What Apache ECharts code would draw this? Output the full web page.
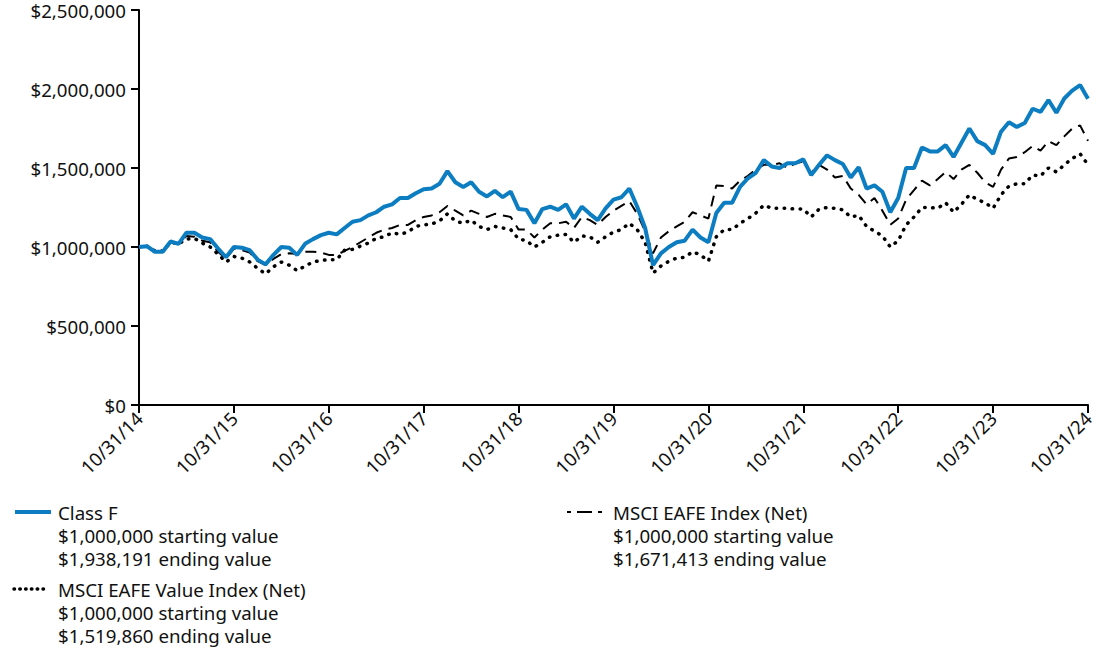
<!DOCTYPE html>
<html>
<head>
<meta charset="utf-8">
<script src="https://cdn.jsdelivr.net/npm/echarts@6/dist/echarts.min.js"></script>
<style>
html,body{margin:0;padding:0;background:#fff;}
#chart{width:1100px;height:653px;}
</style>
</head>
<body>
<div id="chart"></div>
<script>
// Values in thousands of dollars, month-end from 10/31/14 to 10/31/24
const classF = [
1000,1005,970,970,1035,1020,1090,1090,1060,1050,
990,935,1000,995,980,920,890,950,1000,995,
950,1020,1050,1075,1090,1080,1120,1160,1170,1200,
1220,1255,1270,1310,1310,1340,1365,1370,1400,1480,
1410,1380,1410,1350,1320,1355,1315,1350,1240,1235,
1150,1240,1255,1235,1270,1180,1255,1210,1170,1245,
1300,1315,1370,1255,1120,885,960,1000,1030,1040,
1110,1060,1030,1215,1280,1280,1380,1435,1470,1550,
1510,1500,1530,1530,1555,1455,1520,1580,1550,1525,
1440,1505,1370,1390,1350,1220,1310,1500,1500,1630,
1605,1605,1645,1570,1660,1750,1670,1645,1590,1730,
1790,1760,1785,1875,1855,1930,1850,1940,1990,2025,
1938.191];
const msciEafe = [
1000,1005,970,975,1030,1020,1070,1065,1040,1030,
970,925,990,980,965,910,885,925,955,960,
955,970,970,965,950,950,975,1000,1030,1060,
1090,1110,1120,1140,1140,1170,1190,1200,1220,1260,
1230,1200,1230,1210,1190,1210,1200,1190,1110,1110,
1060,1110,1150,1150,1160,1120,1190,1170,1140,1190,
1230,1260,1290,1210,1100,960,1060,1100,1130,1160,
1220,1200,1180,1390,1385,1370,1420,1450,1490,1520,
1520,1530,1500,1530,1540,1470,1520,1490,1440,1450,
1370,1330,1270,1310,1230,1140,1180,1300,1360,1420,
1390,1430,1475,1430,1490,1520,1470,1410,1380,1490,
1560,1570,1600,1640,1610,1670,1645,1700,1750,1770,
1671.413];
const msciEafeValue = [
1000,1005,975,975,1030,1020,1050,1055,1025,1000,
955,905,940,930,905,865,830,875,905,885,
850,880,905,915,920,920,980,985,1005,1025,
1055,1065,1090,1080,1095,1130,1140,1145,1165,1210,
1165,1150,1170,1130,1110,1130,1120,1110,1050,1040,
1000,1030,1065,1075,1080,1030,1070,1065,1030,1065,
1095,1110,1150,1110,1030,835,880,910,930,935,
970,950,910,1065,1110,1110,1150,1180,1215,1265,
1245,1245,1245,1240,1240,1190,1240,1250,1245,1235,
1190,1200,1130,1100,1070,1000,1040,1140,1190,1250,
1250,1245,1280,1220,1270,1330,1300,1280,1245,1330,
1385,1400,1400,1455,1450,1500,1475,1520,1560,1590,
1519.860];
const tickLabels = ['10/31/14','10/31/15','10/31/16','10/31/17','10/31/18','10/31/19','10/31/20','10/31/21','10/31/22','10/31/23','10/31/24'];
const yTicks = [0, 500, 1000, 1500, 2000, 2500];

const legendClassF = ['Class F','$1,000,000 starting value','$1,938,191 ending value'];
const legendValue = ['MSCI EAFE Value Index (Net)','$1,000,000 starting value','$1,519,860 ending value'];
const legendEafe = ['MSCI EAFE Index (Net)','$1,000,000 starting value','$1,671,413 ending value'];

// month-end category labels
const categories = [];
for (let i = 0; i < classF.length; i++) {
  const d = new Date(2014, 10 + i, 0);
  const mm = String(d.getMonth() + 1).padStart(2, '0');
  const dd = String(d.getDate()).padStart(2, '0');
  const yy = String(d.getFullYear() % 100).padStart(2, '0');
  categories.push(mm + '/' + dd + '/' + yy);
}
const tickSet = new Set(tickLabels);

const FONT = '"Noto Sans", "Open Sans", sans-serif';
const FS = 18.7;
const BLUE = '#0D7DC1';
const TXT = '#111';

function legendBlock(x, y, lines) {
  return lines.map((t, k) => ({
    type: 'text', x: x, y: y + k * 23,
    style: { text: t, fill: TXT, font: FS + 'px ' + FONT, textVerticalAlign: 'middle', textAlign: 'left' }
  }));
}

const chart = echarts.init(document.getElementById('chart'), null, { renderer: 'svg' });
chart.setOption({
  animation: false,
  backgroundColor: '#fff',
  grid: { left: 139, right: 12, top: 10, bottom: 248, containLabel: false },
  xAxis: {
    type: 'category',
    data: categories,
    boundaryGap: false,
    axisLine: { lineStyle: { color: '#000', width: 2 } },
    axisTick: { show: true, length: 8, lineStyle: { color: '#000', width: 2 },
      interval: (idx, val) => tickSet.has(val) },
    axisLabel: { rotate: 45, margin: 10, color: TXT, fontSize: FS, fontFamily: FONT,
      interval: (idx, val) => tickSet.has(val) },
    splitLine: { show: false }
  },
  yAxis: {
    type: 'value',
    min: yTicks[0], max: yTicks[yTicks.length - 1], interval: 500,
    axisLine: { show: true, lineStyle: { color: '#000', width: 2 } },
    axisTick: { show: true, length: 8, lineStyle: { color: '#000', width: 2 } },
    axisLabel: { margin: 13, color: TXT, fontSize: FS, fontFamily: FONT,
      formatter: v => '$' + (v * 1000).toLocaleString('en-US') },
    splitLine: { show: false }
  },
  series: [
    { name: 'MSCI EAFE Value Index (Net)', type: 'line', data: msciEafeValue, showSymbol: false, symbol: 'none',
      lineStyle: { color: '#000', width: 3.5, type: [0.5, 7.5], cap: 'round' }, z: 2 },
    { name: 'MSCI EAFE Index (Net)', type: 'line', data: msciEafe, showSymbol: false, symbol: 'none',
      lineStyle: { color: '#000', width: 2, type: [11, 7] }, z: 3 },
    { name: 'Class F', type: 'line', data: classF, showSymbol: false, symbol: 'none',
      lineStyle: { color: BLUE, width: 4 }, z: 4 }
  ],
  graphic: [
    { type: 'line', shape: { x1: 15, y1: 512, x2: 51, y2: 512 }, style: { stroke: BLUE, lineWidth: 4 } },
    { type: 'line', shape: { x1: 14, y1: 589, x2: 44, y2: 589 }, style: { stroke: '#000', lineWidth: 3.5, lineDash: [0.5, 5.3], lineCap: 'round' } },
    { type: 'line', shape: { x1: 567, y1: 512, x2: 603, y2: 512 }, style: { stroke: '#000', lineWidth: 2, lineDash: [4, 6, 15, 6] } },
    ...legendBlock(58, 512, legendClassF),
    ...legendBlock(58, 589, legendValue),
    ...legendBlock(613, 512, legendEafe)
  ]
});
</script>
</body>
</html>
